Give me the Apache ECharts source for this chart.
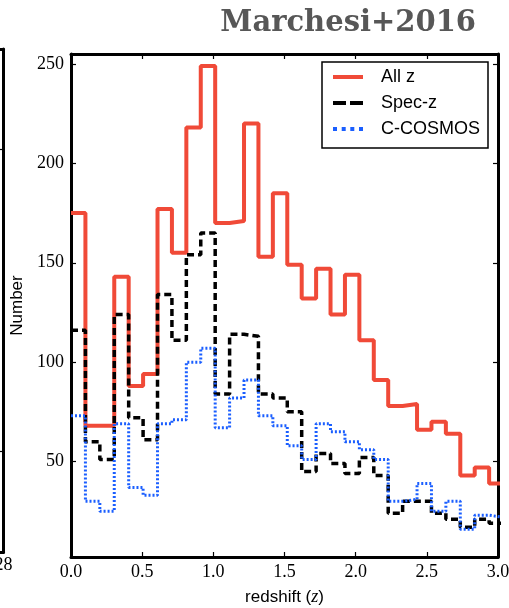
<!DOCTYPE html>
<html><head><meta charset="utf-8">
<script src="https://cdn.jsdelivr.net/npm/echarts@6/dist/echarts.min.js"></script>
<style>html,body{margin:0;padding:0;background:#fff}#c{width:509px;height:608px}</style>
</head><body><div id="c"></div>
<script>
// histogram bins (redshift), equal width
const binStart = 0.0;
const binWidth = 0.1013;
const allZ    = [175,68,68,143,88,94,177,155,218,249,170,171,220,153,185,149,132,147,124,144,111,91,78,79,66,70,64,43,47,39];
const specZ   = [116,60,51,124,72,61,134,111,154,165,84,114,113,84,82,75,45,54,49,44,52,43,24,30,30,24,21,17,21,19];
const cCosmos = [73,30,25,69,37,33,69,71,100,107,67,82,91,73,68,58,51,69,65,60,56,51,30,31,39,25,30,16,23,22];
const xTicks = [0,0.5,1.0,1.5,2.0,2.5,3.0];
const yTicks = [50,100,150,200,250];
const seriesNames = ['All z','Spec-z','C-COSMOS'];
const titleText = 'Marchesi+2016';
const xName = 'redshift ({i|z})';
const yName = 'Number';
// neighbouring (cropped) panel on the left
const leftPanelXLabel = ['28'];
const leftPanelYTicks = [0.2, 0.8];

function stepData(vals){
  const d = vals.map((v,i)=>[binStart+i*binWidth, v]);
  d.push([binStart+vals.length*binWidth, vals[vals.length-1]]);
  return d;
}

const chart = echarts.init(document.getElementById('c'), null, {renderer:'canvas'});
const serif = 'Liberation Serif';
const sans = 'Liberation Sans';
const frame = {show:true, onZero:false, lineStyle:{color:'#000', width:3}};
const tick = {show:true, inside:true, length:5, lineStyle:{color:'#000', width:1.2}};
const colors = ['#f04a38', '#000000', '#1a5eff'];
const legendIcons = [
  'path://M0,0h30v4h-30z',
  'path://M0,0h13v4h-13zM17,0h13v4h-13z',
  'path://M0,0h4v4h-4zM8.7,0h4v4h-4zM17.3,0h4v4h-4zM26,0h4v4h-4z'
];

chart.setOption({
  animation:false,
  backgroundColor:'#fff',
  title:{text:titleText, right:28, top:4,
    textStyle:{fontFamily:'DejaVu Serif', fontWeight:'bold', fontSize:29, color:'#575757'}},
  grid:[
    {left:71, right:11, top:54, bottom:51, outerBoundsMode:'none', containLabel:false},
    {left:-100, width:103.5, top:49, bottom:56, outerBoundsMode:'none', containLabel:false}
  ],
  legend:{
    orient:'vertical', left:322, top:62,
    data:seriesNames.map((n,i)=>({name:n, icon:legendIcons[i], itemStyle:{color:colors[i]}})),
    itemWidth:30, itemHeight:4, itemGap:8,
    padding:[6,8,10,11],
    borderColor:'#000', borderWidth:1.5, borderRadius:0, backgroundColor:'#fff',
    textStyle:{fontFamily:sans, fontSize:18, color:'#000', padding:[0,0,0,13], lineHeight:18}
  },
  xAxis:[
    {type:'value', gridIndex:0, position:'bottom', min:0, max:3, interval:0.5,
     axisLine:frame, axisTick:tick, splitLine:{show:false},
     axisLabel:{fontFamily:serif, fontSize:18, color:'#000', margin:6, formatter:v=>v.toFixed(1)},
     name:xName, nameLocation:'middle', nameGap:31,
     nameTextStyle:{fontFamily:sans, fontSize:17, color:'#000',
       rich:{i:{fontFamily:serif, fontStyle:'italic', fontSize:18, color:'#000'}}},
    },
    {type:'value', gridIndex:0, position:'top', min:0, max:3, interval:0.5,
     axisLine:frame, axisTick:tick, axisLabel:{show:false}, splitLine:{show:false}},
    {type:'value', gridIndex:1, position:'bottom', min:0, max:1,
     axisLine:frame, axisTick:{show:false}, splitLine:{show:false},
     axisLabel:{fontFamily:serif, fontSize:18, color:'#000', margin:4, customValues:[1], formatter:()=>leftPanelXLabel[0]}},
    {type:'value', gridIndex:1, position:'top', min:0, max:1,
     axisLine:frame, axisTick:{show:false}, axisLabel:{show:false}, splitLine:{show:false}}
  ],
  yAxis:[
    {type:'value', gridIndex:0, position:'left', min:2, max:255,
     axisLine:frame, axisTick:Object.assign({}, tick, {customValues:yTicks}), splitLine:{show:false},
     axisLabel:{fontFamily:serif, fontSize:18, color:'#000', margin:7, customValues:yTicks},
     name:yName, nameLocation:'middle', nameGap:38, nameRotate:90,
     nameTextStyle:{fontFamily:sans, fontSize:17, color:'#000'}},
    {type:'value', gridIndex:0, position:'right', min:2, max:255,
     axisLine:frame, axisTick:Object.assign({}, tick, {customValues:yTicks}), splitLine:{show:false},
     axisLabel:{show:false}},
    {type:'value', gridIndex:1, position:'right', min:0, max:1,
     axisLine:frame, axisTick:Object.assign({}, tick, {customValues:leftPanelYTicks}), splitLine:{show:false},
     axisLabel:{show:false}}
  ],
  series:[
    {name:seriesNames[0], type:'line', step:'end', xAxisIndex:0, yAxisIndex:0, data:stepData(allZ),
     symbol:'none', clip:true, z:3, lineStyle:{color:colors[0], width:4}, itemStyle:{color:colors[0]}},
    {name:seriesNames[1], type:'line', step:'end', xAxisIndex:0, yAxisIndex:0, data:stepData(specZ),
     symbol:'none', clip:true, z:4, lineStyle:{color:colors[1], width:3.5, type:[7,4]}, itemStyle:{color:colors[1]}},
    {name:seriesNames[2], type:'line', step:'end', xAxisIndex:0, yAxisIndex:0, data:stepData(cCosmos),
     symbol:'none', clip:true, z:5, lineStyle:{color:colors[2], width:3, type:[2,2]}, itemStyle:{color:colors[2]}}
  ]
});
</script>
</body></html>
